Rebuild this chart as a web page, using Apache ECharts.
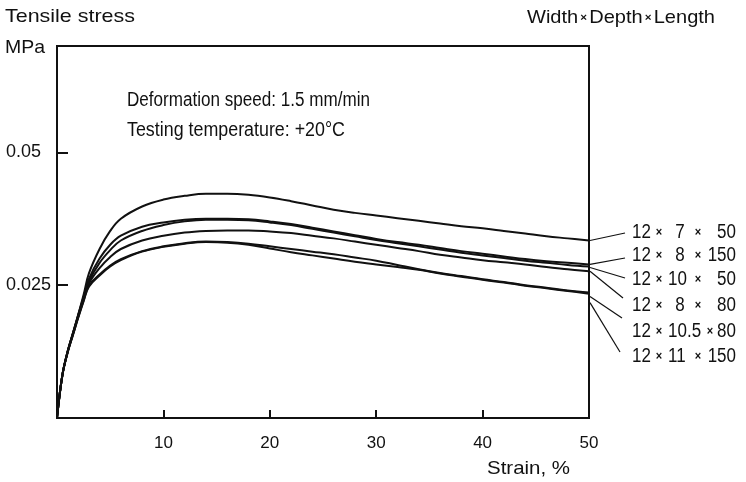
<!DOCTYPE html>
<html>
<head>
<meta charset="utf-8">
<script src="https://cdn.jsdelivr.net/npm/echarts@6/dist/echarts.min.js"></script>
<style>html,body{margin:0;padding:0;background:#fff}#c{width:746px;height:482px}</style>
</head>
<body>
<div id="c"></div>
<script>
var strain = [0,0.5,1,1.5,2,2.5,3,4,5,6,8,10,12,14,16,18,20,22,24,26,28,30,32,34,36,38,40,42,44,46,48,50];
var s12x7x50   = [0,0.0080,0.0125,0.0160,0.0195,0.0232,0.0272,0.0318,0.0352,0.0375,0.0398,0.0411,0.0418,0.0422,0.0422,0.0420,0.0415,0.0408,0.0400,0.0392,0.0386,0.0381,0.0376,0.0371,0.0366,0.0361,0.0357,0.0352,0.0347,0.0342,0.0338,0.0334];
var s12x8x150  = [0,0.0080,0.0125,0.0160,0.0194,0.0228,0.0262,0.0300,0.0326,0.0343,0.0360,0.0368,0.0373,0.0375,0.0375,0.0374,0.0370,0.0365,0.0358,0.0351,0.0344,0.0337,0.0331,0.0326,0.0320,0.0314,0.0309,0.0304,0.0299,0.0295,0.0292,0.0289];
var s12x10x50  = [0,0.0080,0.0125,0.0159,0.0193,0.0226,0.0257,0.0292,0.0316,0.0334,0.0352,0.0363,0.0370,0.0373,0.0373,0.0372,0.0368,0.0363,0.0356,0.0349,0.0342,0.0335,0.0329,0.0323,0.0317,0.0311,0.0306,0.0301,0.0296,0.0292,0.0288,0.0285];
var s12x8x80   = [0,0.0080,0.0124,0.0158,0.0192,0.0224,0.0253,0.0282,0.0303,0.0318,0.0334,0.0343,0.0349,0.0352,0.0353,0.0353,0.0351,0.0348,0.0343,0.0338,0.0332,0.0326,0.0320,0.0314,0.0307,0.0302,0.0297,0.0293,0.0289,0.0284,0.0280,0.0276];
var s12x105x80 = [0,0.0080,0.0124,0.0157,0.0190,0.0221,0.0249,0.0270,0.0287,0.0299,0.0314,0.0323,0.0329,0.0332,0.0331,0.0328,0.0323,0.0318,0.0313,0.0308,0.0302,0.0296,0.0288,0.0280,0.0273,0.0267,0.0261,0.0256,0.0250,0.0245,0.0240,0.0236];
var s12x11x150 = [0,0.0080,0.0123,0.0156,0.0189,0.0220,0.0247,0.0268,0.0285,0.0297,0.0313,0.0322,0.0328,0.0331,0.0330,0.0326,0.0319,0.0312,0.0306,0.0300,0.0294,0.0289,0.0284,0.0279,0.0272,0.0266,0.0260,0.0255,0.0249,0.0244,0.0239,0.0234];
var seriesNames = ['12 × 7 × 50','12 × 8 ×150','12 × 10 × 50','12 × 8 × 80','12 × 10.5 × 80','12 × 11 × 150'];
var xTicks = [10,20,30,40,50];
var yTicks = [0.025,0.05];
var yTickLabels = ['0.025','0.05'];

var allSeries = [s12x7x50,s12x8x150,s12x10x50,s12x8x80,s12x105x80,s12x11x150];
var FONTNAME = 'Liberation Sans';
var FONT = '"Liberation Sans", Arial, sans-serif';
var INK = '#111';

var chart = echarts.init(document.getElementById('c'), null, {renderer:'canvas'});
var series = allSeries.map(function(vals, i){
  return {
    name: seriesNames[i], type:'line', smooth:0.4, symbol:'none',
    lineStyle:{color:INK, width:2},
    data: strain.map(function(x,j){return [x, vals[j]];})
  };
});
chart.setOption({
  backgroundColor:'#fff',
  animation:false,
  grid:{left:57, right:157, top:46, bottom:64, show:true, borderColor:INK, borderWidth:2, backgroundColor:'transparent'},
  xAxis:{type:'value', min:0, max:50,
    axisLine:{lineStyle:{color:INK, width:2}},
    axisTick:{inside:true, length:8, lineStyle:{color:INK, width:2}, customValues:xTicks},
    axisLabel:{color:INK, fontFamily:FONT, fontSize:17, margin:17, customValues:xTicks},
    splitLine:{show:false}},
  yAxis:{type:'value', min:0, max:0.07,
    axisLine:{lineStyle:{color:INK, width:2}},
    axisTick:{inside:true, length:11, lineStyle:{color:INK, width:2}, customValues:yTicks},
    axisLabel:{color:INK, fontFamily:FONT, fontSize:18, margin:51, align:'left', customValues:yTicks,
      formatter:function(v){var k=yTicks.indexOf(v);return k>=0?yTickLabels[k]:'';}},
    splitLine:{show:false}},
  series: series
});

var ctx = document.createElement('canvas').getContext('2d');
function measure(t, size){ ctx.font = size+'px "'+FONTNAME+'"'; return ctx.measureText(t).width; }

// text fitted to a target width (narrow technical lettering)
function fitTxt(text, x, y, size, targetW, rich){
  var style = {text:text, fill:INK, font: size+'px '+FONT, align:'left', verticalAlign:'middle'};
  if (rich) style.rich = rich;
  var probe = new echarts.graphic.Text({style:style});
  var w = probe.getBoundingRect().width;
  return {type:'text', x:x, y:y, scaleX:targetW / w, scaleY:1, silent:true, style:style};
}

// dimension label laid out in columns like the original lettering
function dimLabel(name, x0, y){
  var S = 0.85, FS = 20, XS = 13;
  var parts = name.split('×').map(function(p){return p.trim();});
  var u = function(px){ return (px - x0) / S; };
  var wa = measure(parts[0], FS), wm = measure(parts[1], FS), wc = measure(parts[2], FS), wx = measure('×', XS);
  var cur = wa;
  var x1s = u(659) - wx/2, p1 = x1s - cur; cur = x1s + wx;
  var ms = (wm*S < 14) ? u(680) - wm/2 : u(668); var pm = ms - cur; cur = ms + wm;
  var x2c = Math.max(698, x0 + cur*S + 9);
  var x2s = u(x2c) - wx/2, p2 = x2s - cur; cur = x2s + wx;
  var cs = u(736) - wc, pc = cs - cur;
  var rich = {
    a: {fontSize:FS, fontFamily:FONT, color:INK},
    x1: {fontSize:XS, fontFamily:FONT, color:INK, fontWeight:'bold', padding:[0,0,0,p1]},
    m: {fontSize:FS, fontFamily:FONT, color:INK, padding:[0,0,0,pm]},
    x2: {fontSize:XS, fontFamily:FONT, color:INK, fontWeight:'bold', padding:[0,0,0,p2]},
    c: {fontSize:FS, fontFamily:FONT, color:INK, padding:[0,0,0,pc]}
  };
  var text = '{a|'+parts[0]+'}{x1|×}{m|'+parts[1]+'}{x2|×}{c|'+parts[2]+'}';
  return {type:'text', x:x0, y:y, scaleX:S, silent:true,
    style:{text:text, rich:rich, font:FS+'px '+FONT, fill:INK, align:'left', verticalAlign:'middle'}};
}

var labelY = [232,255,279,305,331,356];
var leaderEnd = [[625,233],[625,258],[625,278],[623,298],[622,318],[620,352]];
var startOffset = [0,0,1,0,4,9];
var g = [
  fitTxt('Tensile stress',5,17,19,130),
  fitTxt('MPa',5,48,19,40),
  fitTxt('Deformation speed: 1.5 mm/min',127,100,20,243),
  fitTxt('Testing temperature: +20°C',127,130,20,218),
  fitTxt('Width{s|×}Depth{s|×}Length',527,18,19,188,{s:{fontSize:11, fontWeight:'bold', padding:[0,2,0,2], fontFamily:FONT}}),
  fitTxt('Strain, %',487,469,19,83)
];
allSeries.forEach(function(vals,i){
  var p = chart.convertToPixel({gridIndex:0},[strain[strain.length-1], vals[vals.length-1]]);
  g.push({type:'line', silent:true, shape:{x1:p[0]+1, y1:p[1]+startOffset[i], x2:leaderEnd[i][0], y2:leaderEnd[i][1]},
    style:{stroke:INK, lineWidth:1.2}});
  g.push(dimLabel(seriesNames[i], 632, labelY[i]));
});
chart.setOption({graphic:g});
</script>
</body>
</html>
